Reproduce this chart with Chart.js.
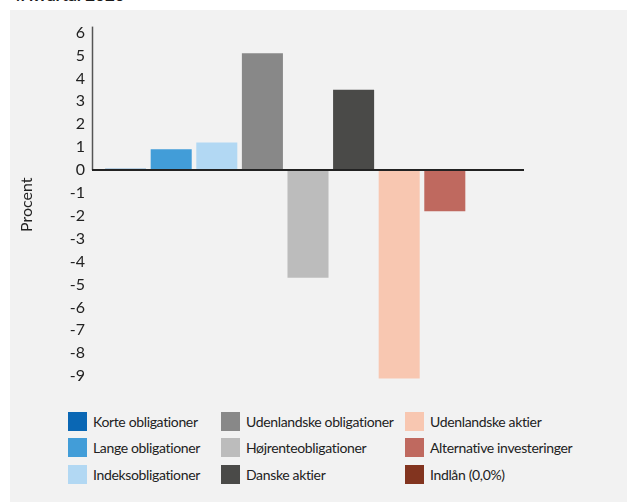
<!DOCTYPE html>
<html lang="da">
<head>
<meta charset="utf-8">
<script src="https://cdn.jsdelivr.net/npm/chart.js@4"></script>
<style>
  html, body { margin: 0; padding: 0; background: #ffffff; }
  body { width: 628px; height: 502px; position: relative; overflow: hidden; font-family: Lato, "Open Sans", sans-serif; }
  #heading { position: absolute; left: 11px; top: -14px; font: bold 17px/17px Lato, sans-serif; color: #1a1a1a; white-space: nowrap; }
  #panel { position: absolute; left: 10px; top: 10px; width: 617px; height: 492px; background: #f2f2f2; }
  #chartBox { position: absolute; left: 0; top: 0; width: 617px; height: 390px; }
  .item { position: absolute; height: 20px; display: flex; align-items: center; white-space: nowrap; font-size: 14px; letter-spacing: -0.35px; font-variant-ligatures: none; color: #222; }
  .swatch { width: 19px; height: 19px; margin-right: 6px; flex: none; }
</style>
</head>
<body>
<div id="heading">4. kvartal 2020</div>
<div id="panel">
  <div id="chartBox"><canvas id="c" width="617" height="390"></canvas></div>
  <div id="legend"></div>
</div>
<script>
// Afkast pr. aktivklasse, procent
const seriesNames = [
  'Korte obligationer',
  'Lange obligationer',
  'Indeksobligationer',
  'Udenlandske obligationer',
  'Højrenteobligationer',
  'Danske aktier',
  'Udenlandske aktier',
  'Alternative investeringer',
  'Indlån (0,0%)'
];
const seriesValues = [0.05, 0.9, 1.2, 5.1, -4.7, 3.5, -9.1, -1.8, 0.0];
const seriesColors = [
  '#0a67b4', '#429dd8', '#b2d8f3',
  '#888888', '#bcbcbc', '#4a4a48',
  '#f8c7b1', '#bf695f', '#82341f'
];
const yTickValues = [6, 5, 4, 3, 2, 1, 0, -1, -2, -3, -4, -5, -6, -7, -8, -9];
const groupLabel = ['4. kvartal 2020'];

const FONT = 'Lato, "Open Sans", sans-serif';

// axis lines: vertical axis above zero and a heavy zero line drawn over the bars
const axisLines = {
  id: 'axisLines',
  afterDatasetsDraw(chart) {
    const { ctx, chartArea } = chart;
    const y0 = chart.scales.y.getPixelForValue(0);
    ctx.save();
    ctx.strokeStyle = '#555555';
    ctx.lineWidth = 1.5;
    ctx.beginPath();
    ctx.moveTo(chartArea.left + 0.5, chartArea.top);
    ctx.lineTo(chartArea.left + 0.5, y0);
    ctx.stroke();
    ctx.strokeStyle = '#222222';
    ctx.lineWidth = 2.2;
    ctx.beginPath();
    ctx.moveTo(chartArea.left, y0);
    ctx.lineTo(chartArea.right, y0);
    ctx.stroke();
    ctx.restore();
  }
};

new Chart(document.getElementById('c'), {
  type: 'bar',
  data: {
    labels: groupLabel,
    datasets: seriesNames.map((name, i) => ({
      label: name,
      data: [seriesValues[i]],
      backgroundColor: seriesColors[i],
      borderWidth: 0,
      categoryPercentage: 0.95,
      barPercentage: 0.9
    }))
  },
  options: {
    responsive: false,
    animation: false,
    layout: { padding: { left: 0, right: 103, top: 15, bottom: 17 } },
    plugins: { legend: { display: false }, tooltip: { enabled: false } },
    scales: {
      x: { display: false },
      y: {
        min: -9.3,
        max: 6.26,
        afterFit(scale) { scale.width = 82; },
        afterBuildTicks(scale) { scale.ticks = yTickValues.map(v => ({ value: v })); },
        grid: { display: false, drawTicks: false },
        border: { display: false },
        ticks: {
          padding: 7,
          color: '#222222',
          font: { family: FONT, size: 16 },
          callback: v => String(v)
        },
        title: {
          display: true,
          text: 'Procent',
          color: '#222222',
          font: { family: FONT, size: 16 },
          padding: { top: 7, bottom: 0 }
        }
      }
    }
  },
  plugins: [axisLines]
});

// legend in three columns, filled column by column
const legendCols = [58, 211, 395];
const legendRows = [401, 427, 454];
const legend = document.getElementById('legend');
seriesNames.forEach((name, i) => {
  const item = document.createElement('div');
  item.className = 'item';
  item.style.left = legendCols[Math.floor(i / 3)] + 'px';
  item.style.top = legendRows[i % 3] + 'px';
  const sw = document.createElement('span');
  sw.className = 'swatch';
  sw.style.background = seriesColors[i];
  const tx = document.createElement('span');
  tx.textContent = name;
  item.appendChild(sw);
  item.appendChild(tx);
  legend.appendChild(item);
});
</script>
</body>
</html>
